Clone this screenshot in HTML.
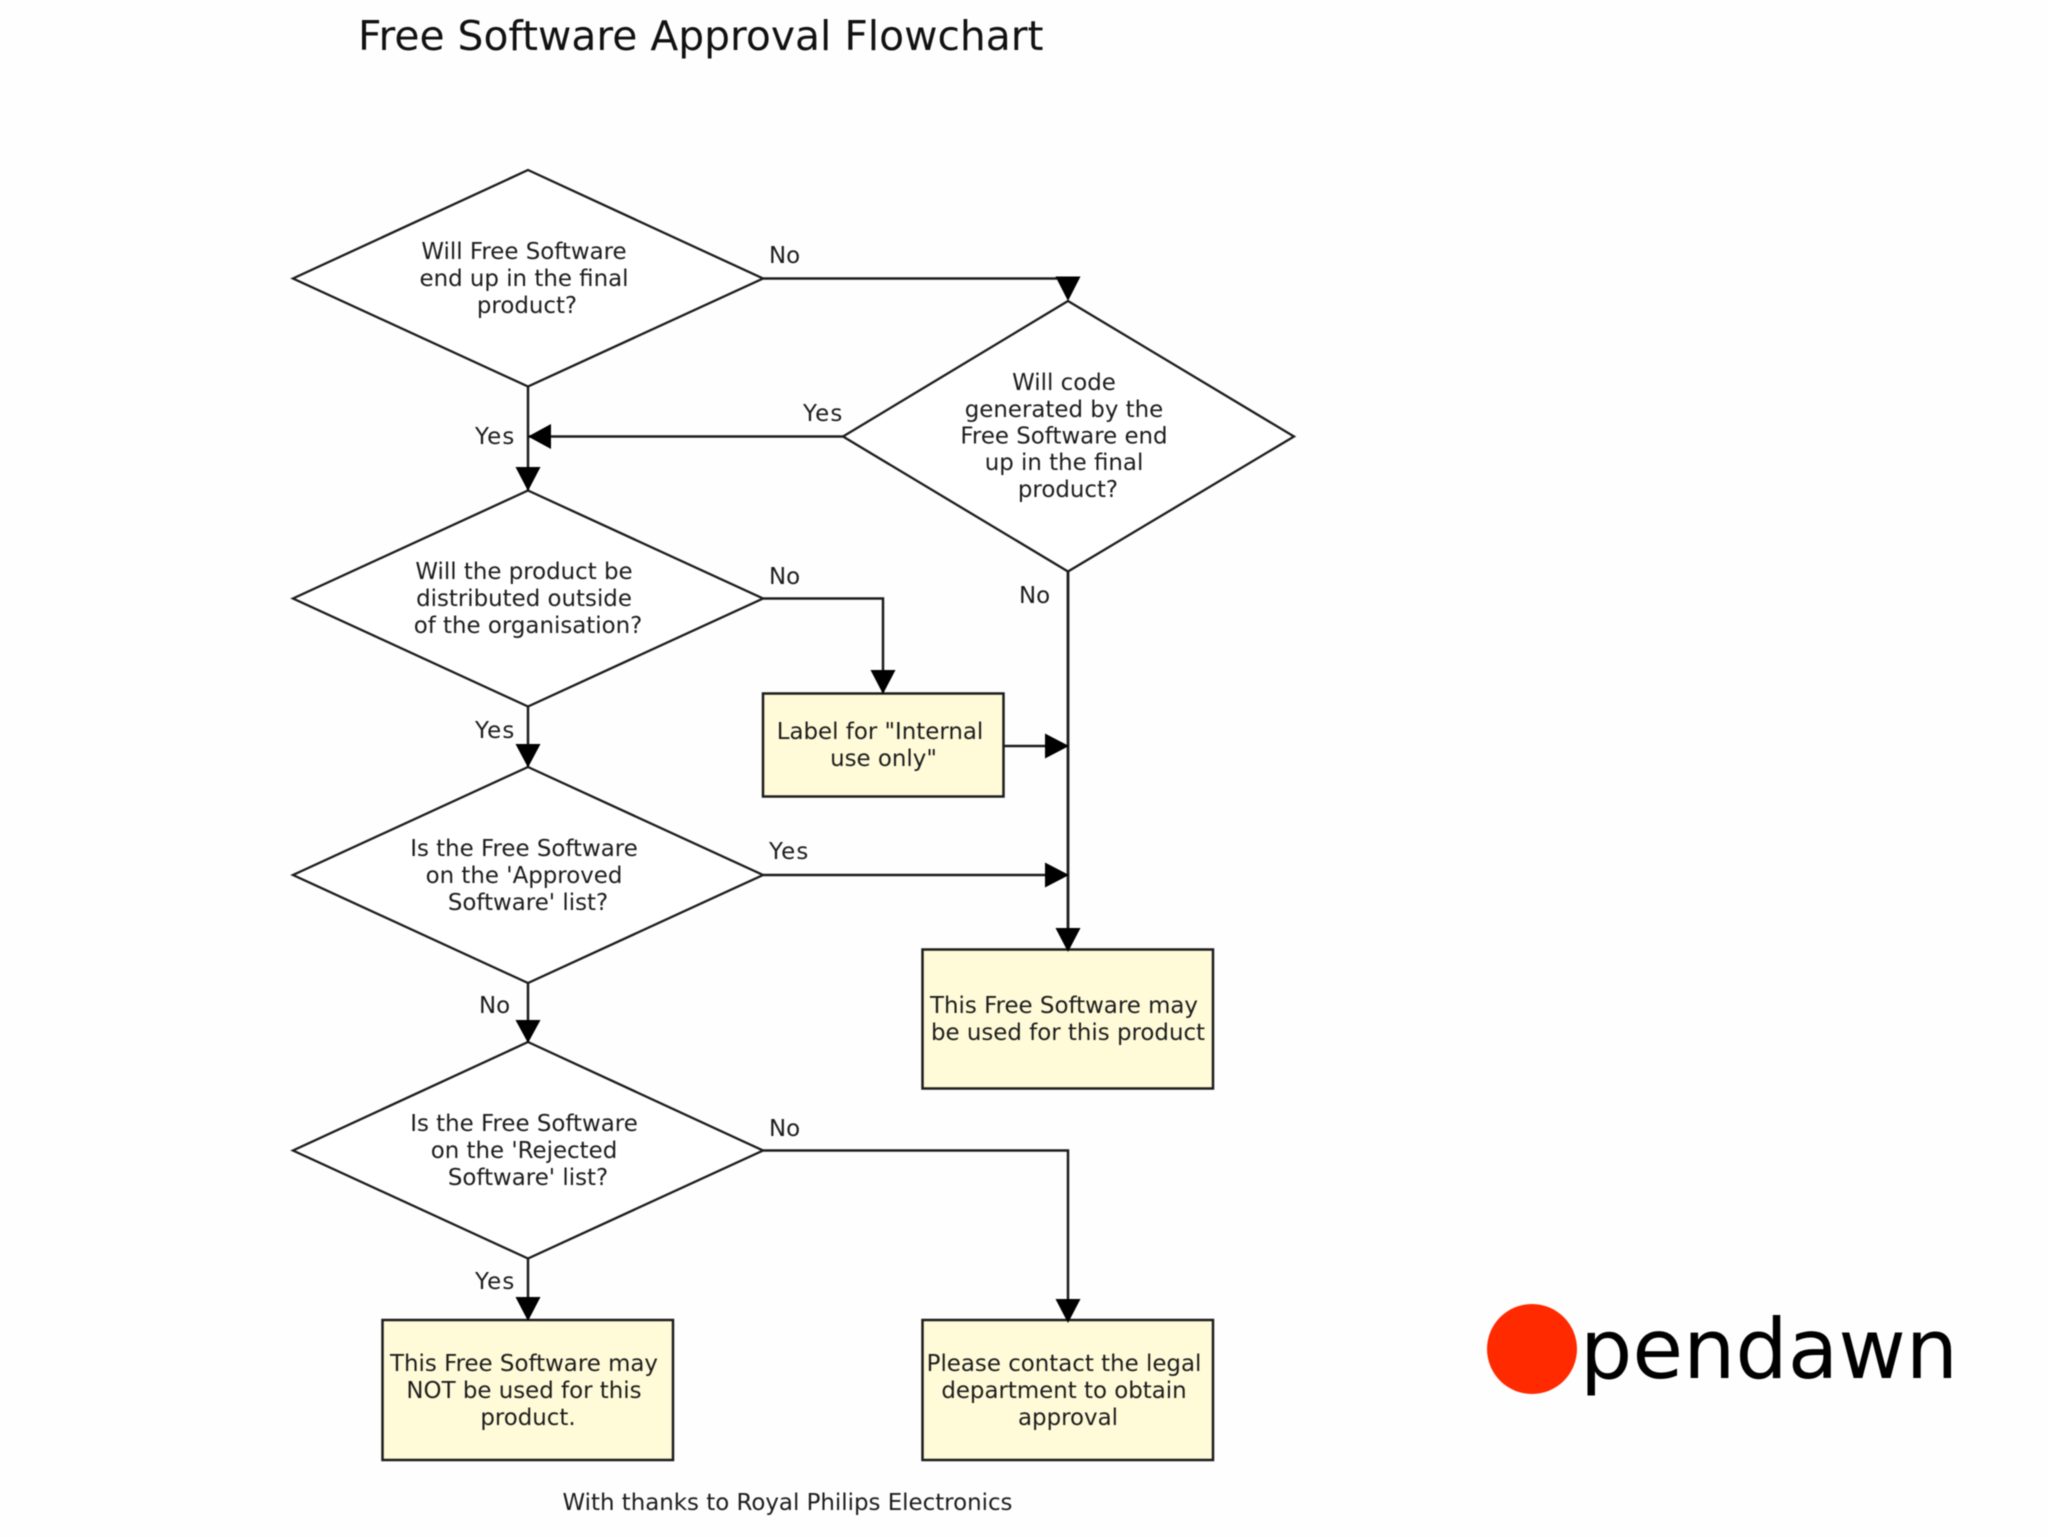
<!DOCTYPE html>
<html>
<head>
<meta charset="utf-8">
<title>Free Software Approval Flowchart</title>
<style>
html,body{margin:0;padding:0;background:#fff;width:2048px;height:1537px;overflow:hidden}
svg{display:block;filter:blur(.45px)}
text{font-family:"DejaVu Sans","Liberation Sans",sans-serif;font-size:22.9px;fill:#1c1c1c}
.c{text-anchor:middle}
.y{letter-spacing:1.2px}
.d{fill:#fff;stroke:#1c1c1c;stroke-width:2.3}
.b{fill:#fffbd8;stroke:#1c1c1c;stroke-width:2.5}
.l{fill:none;stroke:#1c1c1c;stroke-width:2.5}
.a{fill:#000;stroke:none}
</style>
</head>
<body>
<svg width="2048" height="1537" viewBox="0 0 2048 1537" xmlns="http://www.w3.org/2000/svg">
<rect width="2048" height="1537" fill="#fefefe"/>
<text x="358" y="50" style="font-size:40.8px;fill:#111">Free Software Approval Flowchart</text>

<!-- connectors -->
<path class="l" d="M763 278.500H1068"/>
<path class="l" d="M528 386V490"/>
<path class="l" d="M843 436.500H528"/>
<path class="l" d="M763 598.500H883V693"/>
<path class="l" d="M528 706V767"/>
<path class="l" d="M763 875H1068"/>
<path class="l" d="M1004 746H1068"/>
<path class="l" d="M1068 571V950" style="stroke-width:2.8"/>
<path class="l" d="M528 983V1042"/>
<path class="l" d="M763 1150.500H1068V1320"/>
<path class="l" d="M528 1258V1320"/>

<!-- decisions -->
<polygon class="d" points="528,170 763,278.500 528,386.500 293,278.500"/>
<polygon class="d" points="1068,301 1294,436.500 1068,571.500 843,436.500"/>
<polygon class="d" points="528,490.500 763,598.500 528,706.500 293,598.500"/>
<polygon class="d" points="528,767 763,875 528,983 293,875"/>
<polygon class="d" points="528,1042 763,1150.500 528,1258.500 293,1150.500"/>

<!-- boxes -->
<rect class="b" x="763" y="693.500" width="240.500" height="103"/>
<rect class="b" x="922.500" y="949.500" width="290.500" height="139"/>
<rect class="b" x="382.500" y="1320" width="290.500" height="140"/>
<rect class="b" x="922.500" y="1320" width="290.500" height="140"/>

<!-- arrowheads -->
<polygon class="a" points="1055.500,276.500 1080.500,276.500 1068,301"/>
<polygon class="a" points="551,424 551,449 528,436.500"/>
<polygon class="a" points="515.500,467 540.500,467 528,491"/>
<polygon class="a" points="870.500,670 895.500,670 883,694"/>
<polygon class="a" points="1045,733.500 1045,758.500 1069,746"/>
<polygon class="a" points="1045,862.500 1045,887.500 1069,875"/>
<polygon class="a" points="1055.500,928 1080.500,928 1068,952"/>
<polygon class="a" points="515.500,744 540.500,744 528,767.500"/>
<polygon class="a" points="515.500,1020 540.500,1020 528,1043"/>
<polygon class="a" points="515.500,1297 540.500,1297 528,1321"/>
<polygon class="a" points="1055.500,1299 1080.500,1299 1068,1323"/>

<!-- decision text -->
<text class="c" x="524" y="259">Will Free Software</text>
<text class="c" x="524" y="286">end up in the final</text>
<text class="c" x="527" y="313">product?</text>

<text class="c" x="1064" y="390">Will code</text>
<text class="c" x="1064" y="417">generated by the</text>
<text class="c" x="1064" y="443.500">Free Software end</text>
<text class="c" x="1064" y="470">up in the final</text>
<text class="c" x="1068" y="497">product?</text>

<text class="c" x="524" y="579">Will the product be</text>
<text class="c" x="524" y="606">distributed outside</text>
<text class="c" x="528" y="633">of the organisation?</text>

<text class="c" x="524" y="856">Is the Free Software</text>
<text class="c" x="524" y="883">on the 'Approved</text>
<text class="c" x="528" y="910">Software' list?</text>

<text class="c" x="524" y="1131">Is the Free Software</text>
<text class="c" x="524" y="1158">on the 'Rejected</text>
<text class="c" x="528" y="1185">Software' list?</text>

<!-- box text -->
<text class="c" x="880" y="739">Label for "Internal</text>
<text class="c" x="883.500" y="766">use only"</text>

<text class="c" x="1064" y="1013">This Free Software may</text>
<text class="c" x="1068" y="1040">be used for this product</text>

<text class="c" x="524" y="1371">This Free Software may</text>
<text class="c" x="524" y="1398">NOT be used for this</text>
<text class="c" x="528" y="1425">product.</text>

<text class="c" x="1064" y="1371">Please contact the legal</text>
<text class="c" x="1064" y="1398">department to obtain</text>
<text class="c" x="1068" y="1425">approval</text>

<!-- connector labels -->
<text x="769" y="263">No</text>
<text class="y" x="803" y="421">Yes</text>
<text class="y" x="475" y="444">Yes</text>
<text x="769" y="584">No</text>
<text x="1019" y="603">No</text>
<text class="y" x="475" y="738">Yes</text>
<text class="y" x="769" y="859">Yes</text>
<text x="479" y="1013">No</text>
<text x="769" y="1136">No</text>
<text class="y" x="475" y="1289">Yes</text>

<text class="c" x="787.500" y="1510">With thanks to Royal Philips Electronics</text>

<!-- logo -->
<circle cx="1532" cy="1349" r="45" fill="#ff2a00"/>
<text x="1580" y="1378" style="font-size:82.5px;fill:#000">pendawn</text>
</svg>
</body>
</html>
